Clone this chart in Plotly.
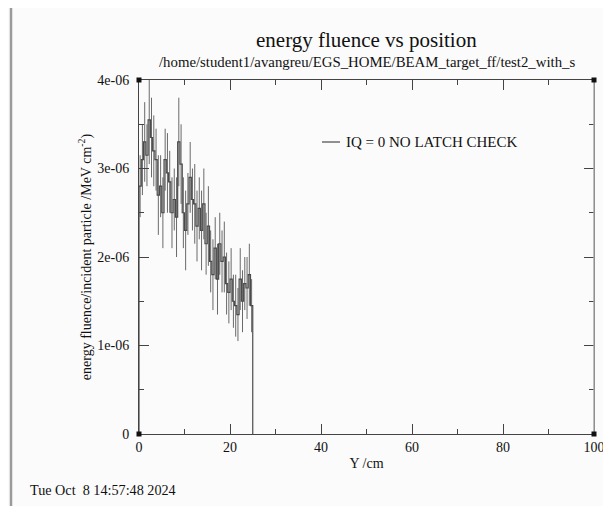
import plotly.graph_objects as go

# ---- data ----
bin_width = 0.5  # cm
fluence = [2.8, 3.1, 3.3, 3.15, 3.55, 3.35, 3.2, 3.1, 2.7, 2.8,
           2.5, 3.1, 2.95, 2.85, 2.5, 2.65, 2.45, 3.3, 3.05, 2.5,
           2.3, 2.6, 2.9, 2.65, 2.6, 2.35, 2.55, 2.3, 2.6, 2.15,
           2.35, 1.95, 1.8, 2.1, 1.75, 2.15, 1.95, 2.0, 1.7, 1.6,
           1.75, 1.5, 1.45, 1.35, 1.75, 1.5, 1.7, 1.65, 1.8, 1.45]  # x 1e-6
errors = [0.35, 0.4, 0.45, 0.35, 0.5, 0.45, 0.4, 0.35, 0.45, 0.35,
          0.4, 0.35, 0.45, 0.35, 0.4, 0.35, 0.45, 0.5, 0.45, 0.4,
          0.45, 0.35, 0.4, 0.35, 0.45, 0.4, 0.35, 0.45, 0.4, 0.35,
          0.45, 0.35, 0.4, 0.35, 0.4, 0.35, 0.35, 0.4, 0.35, 0.35,
          0.35, 0.3, 0.35, 0.3, 0.35, 0.35, 0.3, 0.35, 0.35, 0.3]  # x 1e-6
y_ticks = [0, 1e-6, 2e-6, 3e-6, 4e-6]
y_ticklabels = ["0", "1e-06", "2e-06", "3e-06", "4e-06"]
x_ticks = [0, 20, 40, 60, 80, 100]
legend_label = "IQ = 0 NO LATCH CHECK"

scale = 1e-6
n = len(fluence)
edges = [i * bin_width for i in range(n + 1)]
centers = [(edges[i] + edges[i + 1]) / 2 for i in range(n)]
vals = [v * scale for v in fluence]
errs = [e * scale for e in errors]

step_x = [edges[0]] + edges[:n] + [edges[n], edges[n]]
step_y = [0] + vals + [vals[-1], 0]

# page has an 8px body margin; work in window pixel coordinates
OFF = 8
W, H = 611 - OFF, 506 - OFF
PX0, PX1, PY0, PY1 = 139, 594, 80, 434   # plot area in window pixels
L, T = PX0 - OFF, PY0 - OFF
R = W - (PX1 - OFF)
B = H - (PY1 - OFF)
pw, ph = PX1 - PX0, PY1 - PY0


def px_x(xw):
    return (xw - PX0) / pw


def px_y(yw):
    return (PY1 - yw) / ph


fig = go.Figure()
fig.add_trace(go.Scatter(
    x=centers, y=vals, mode="lines", line=dict(width=0, color="rgba(0,0,0,0)"),
    error_y=dict(type="data", array=errs, visible=True, color="#6a6a6a",
                 thickness=1, width=0),
    showlegend=False, hoverinfo="skip"))
fig.add_trace(go.Scatter(
    x=step_x, y=step_y, mode="lines", line=dict(shape="hv", color="#4a4a4a", width=1.2),
    name=legend_label, showlegend=False))

serif = "Liberation Serif"
axis_common = dict(showline=True, linecolor="#444", linewidth=1, mirror="ticks",
                   ticks="inside", tickcolor="#444", showgrid=False, zeroline=False,
                   tickfont=dict(family=serif, size=14, color="#111"))

fig.update_layout(
    width=W, height=H,
    margin=dict(l=L, r=R, t=T, b=B, autoexpand=False),
    paper_bgcolor="#fbfbfb", plot_bgcolor="#fbfbfb",
    font=dict(family=serif, color="#111"),
    xaxis=dict(range=[0, 100], tickvals=x_ticks, ticklen=10,
               minor=dict(dtick=10, ticklen=5, ticks="inside", tickcolor="#444"),
               title=dict(text="Y /cm", font=dict(family=serif, size=14), standoff=4),
               **axis_common),
    yaxis=dict(range=[0, 4e-6], tickvals=y_ticks, ticktext=y_ticklabels, ticklen=10,
               ticklabelstandoff=6,
               minor=dict(dtick=0.5e-6, ticklen=5, ticks="inside", tickcolor="#444"),
               title=dict(text="energy fluence/incident particle /MeV cm<sup>-2</sup>)",
                          font=dict(family=serif, size=14), standoff=2),
               **axis_common),
    showlegend=False,
)

# legend drawn as line sample + label
fig.add_shape(type="line", xref="paper", yref="paper",
              x0=px_x(322), x1=px_x(340), y0=px_y(142), y1=px_y(142),
              line=dict(color="#4a4a4a", width=1.2))
fig.add_annotation(text=legend_label, xref="paper", yref="paper",
                   x=px_x(344), y=px_y(142), xanchor="left", yanchor="middle",
                   showarrow=False, font=dict(family=serif, size=15, color="#111"))

fig.add_annotation(text="energy fluence vs position", xref="paper", yref="paper",
                   x=0.5, y=px_y(40), xanchor="center", yanchor="middle",
                   showarrow=False, font=dict(family=serif, size=21, color="#111"))
fig.add_annotation(text="/home/student1/avangreu/EGS_HOME/BEAM_target_ff/test2_with_s",
                   xref="paper", yref="paper",
                   x=0.5, y=px_y(62), xanchor="center", yanchor="middle",
                   showarrow=False, font=dict(family=serif, size=14.8, color="#111"))
fig.add_annotation(text="Tue Oct \u00a08 14:57:48 2024", xref="paper", yref="paper",
                   x=px_x(28), y=px_y(490), xanchor="left", yanchor="middle",
                   showarrow=False, font=dict(family=serif, size=14.2, color="#111"))

# right frame line in light grey
fig.add_shape(type="line", xref="paper", yref="paper", x0=1, x1=1, y0=0, y1=1,
              line=dict(color="#aaaaaa", width=1.5), layer="above")
# page-edge line on the left
fig.add_shape(type="line", xref="paper", yref="paper",
              x0=px_x(11), x1=px_x(11), y0=px_y(506), y1=px_y(0),
              line=dict(color="#9a9a9a", width=2.5), layer="above")
# corner squares
for cx in (0, 1):
    for cy in (0, 1):
        fig.add_shape(type="rect", xref="paper", yref="paper",
                      xsizemode="pixel", ysizemode="pixel", xanchor=cx, yanchor=cy,
                      x0=-2.5, x1=2.5, y0=-2.5, y1=2.5,
                      fillcolor="#111", line=dict(width=0), layer="above")

fig.write_html("out.html")
